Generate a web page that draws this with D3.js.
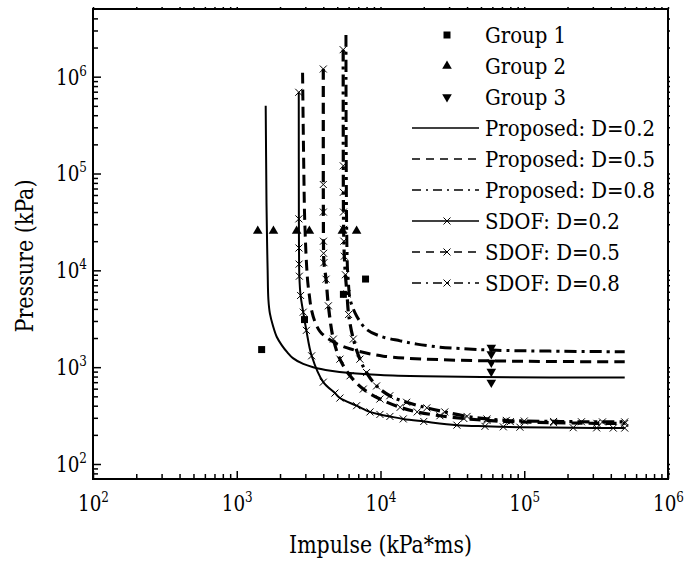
<!DOCTYPE html>
<html>
<head>
<meta charset="utf-8">
<script src="https://cdn.jsdelivr.net/npm/d3@7"></script>
<style>
  body { margin: 0; background: #fff; }
  svg { display: block; }
  text { font-family: 'DejaVu Serif', serif; font-stretch: condensed; }
</style>
</head>
<body>
<main></main>
<script>
const w = 688;
const h = 568;
const padLeft = 93, padRight = 668, padTop = 9, padBottom = 479;

// tick labels (decades)
const xTicks = [1e2, 1e3, 1e4, 1e5, 1e6];
const yTicks = [1e2, 1e3, 1e4, 1e5, 1e6];

// test groups [impulse, pressure]
const group1 = [[1490, 1520], [2960, 3100], [5520, 5650], [7870, 8130]];
const group2 = [[1400, 25500], [1800, 25500], [2610, 25500], [3200, 25500], [5430, 25500], [6820, 25500]];
const group3 = [[59000, 1600], [59000, 1370], [59000, 1120], [59000, 900], [59000, 695]];

// proposed P-I curves
const proposed02 = [[1590, 5e5], [1600, 1.5e5], [1610, 5e4], [1625, 2e4], [1640, 1e4], [1660, 5000], [1700, 3600],
  [1790, 2650], [1900, 2050], [2060, 1680], [2250, 1420], [2460, 1240], [2900, 1080], [3400, 1000], [4500, 920],
  [6140, 870], [1e4, 830], [2e4, 805], [5e4, 790], [1.5e5, 783], [5e5, 780]];
const proposed05 = [[2870, 1.1e6], [2900, 3e5], [2930, 1e5], [2960, 4e4], [2990, 2.5e4], [3030, 1.5e4], [3070, 1.05e4],
  [3120, 7500], [3200, 5500], [3300, 4000], [3500, 2950], [3800, 2330], [4300, 1980], [4900, 1760], [5800, 1590],
  [6820, 1480], [8500, 1370], [10450, 1300], [15000, 1240], [25900, 1195], [6e4, 1160], [1.5e5, 1145], [5e5, 1137]];
const proposed08 = [[5750, 2.7e6], [5755, 1e6], [5765, 3e5], [5780, 1e5], [5800, 4e4], [5820, 2.5e4], [5850, 1.5e4],
  [5900, 1e4], [5980, 7500], [6140, 5050], [6820, 3380], [8000, 2460], [9870, 2100], [13700, 1870], [17900, 1730],
  [25900, 1610], [35800, 1560], [6e4, 1500], [1.5e5, 1465], [5e5, 1442]];

// SDOF results
const sdof02 = [[2700, 6.9e5], [2705, 3.4e4], [2710, 1.7e4], [2715, 1.16e4], [2725, 8700], [2780, 5500], [2900, 3700],
  [3050, 2400], [3320, 1310], [4000, 700], [4820, 540], [5220, 480], [6820, 400], [8450, 345], [9910, 325],
  [11630, 310], [14400, 292], [20000, 275], [34000, 252], [53300, 245], [71500, 242], [93300, 240],
  [2.19e5, 237], [3.19e5, 236], [4.16e5, 235], [5e5, 235]];
const sdof05 = [[4000, 1.2e6], [4000, 7.7e4], [4005, 4e4], [4010, 2e4], [4020, 1.5e4], [4040, 1.2e4], [4180, 8100],
  [4340, 4300], [4700, 1950], [5220, 1210], [6140, 815], [7590, 594], [9910, 469], [13700, 385], [18000, 345],
  [25900, 315], [38000, 295], [55000, 282], [80000, 274], [1.6e5, 267], [3.2e5, 263], [5e5, 262]];
const sdof08 = [[5500, 1.9e6], [5510, 1.2e5], [5515, 6.4e4], [5525, 4e4], [5540, 2.65e4], [5560, 2e4], [5600, 1.4e4],
  [5700, 9000], [5850, 5700], [6000, 3500], [6470, 1950], [7190, 1210], [8000, 880], [9390, 640], [11600, 507],
  [15200, 434], [21000, 380], [28000, 345], [40000, 310], [55000, 292], [75000, 282], [1e5, 278], [1.6e5, 275],
  [2.5e5, 273], [3.5e5, 272], [5e5, 272]];

const legendLabels = ["Group 1", "Group 2", "Group 3", "Proposed: D=0.2", "Proposed: D=0.5", "Proposed: D=0.8",
  "SDOF: D=0.2", "SDOF: D=0.5", "SDOF: D=0.8"];

const x = d3.scaleLog().domain([100, 1e6]).range([padLeft, padRight]);
const y = d3.scaleLog().domain([70, 5e6]).range([padBottom, padTop]);

function minorTicks(scale) {
  const [a, b] = scale.domain();
  const out = [];
  for (let e = Math.floor(Math.log10(a)); e <= Math.ceil(Math.log10(b)); e++) {
    for (let m = 2; m <= 9; m++) {
      const v = m * Math.pow(10, e);
      if (v > a && v < b) out.push(v);
    }
  }
  return out;
}

// squeeze text horizontally so it takes `width` px (narrow serif look)
function squeezeFactor(node, width) {
  return width / node.getComputedTextLength();
}

const svg = d3.select("main").append("svg")
  .attr("width", w)
  .attr("height", h);

svg.append("rect").attr("width", w).attr("height", h).attr("fill", "#fff");

function powerLabels(g) {
  g.attr("font-family", null);
  g.selectAll(".tick text").each(function (d) {
    const t = d3.select(this);
    t.text("");
    t.attr("font-size", 23).attr("fill", "#000");
    t.append("tspan").text("10");
    t.append("tspan").attr("dy", -9).attr("font-size", 15).text(Math.round(Math.log10(d)));
    const k = squeezeFactor(this, 31);
    t.attr("transform", "scale(" + k + ",1)").attr("x", +t.attr("x") / k);
  });
}

// axes: inward ticks
const axisStyle = g => {
  g.select(".domain").remove();
  g.selectAll(".tick line").attr("stroke", "#000").attr("stroke-width", 1.5);
};

svg.append("g")
  .attr("transform", "translate(0," + padBottom + ")")
  .call(d3.axisBottom(x).tickValues(minorTicks(x)).tickSizeInner(-5).tickSizeOuter(0).tickFormat(""))
  .call(axisStyle);
svg.append("g")
  .attr("transform", "translate(0," + padBottom + ")")
  .call(d3.axisBottom(x).tickValues(xTicks).tickSizeInner(-8).tickSizeOuter(0).tickPadding(16))
  .call(axisStyle)
  .call(powerLabels);

svg.append("g")
  .attr("transform", "translate(" + padLeft + ",0)")
  .call(d3.axisLeft(y).tickValues(minorTicks(y)).tickSizeInner(-5).tickSizeOuter(0).tickFormat(""))
  .call(axisStyle);
svg.append("g")
  .attr("transform", "translate(" + padLeft + ",0)")
  .call(d3.axisLeft(y).tickValues(yTicks).tickSizeInner(-8).tickSizeOuter(0).tickPadding(6))
  .call(axisStyle)
  .call(powerLabels);

// tiny ticks on top and right
svg.append("g")
  .attr("transform", "translate(0," + padTop + ")")
  .call(d3.axisTop(x).tickValues(xTicks.concat(minorTicks(x))).tickSizeInner(2).tickSizeOuter(0).tickFormat(""))
  .call(axisStyle);
svg.append("g")
  .attr("transform", "translate(" + padRight + ",0)")
  .call(d3.axisRight(y).tickValues(yTicks.concat(minorTicks(y))).tickSizeInner(2).tickSizeOuter(0).tickFormat(""))
  .call(axisStyle);

svg.append("rect")
  .attr("x", padLeft).attr("y", padTop)
  .attr("width", padRight - padLeft).attr("height", padBottom - padTop)
  .attr("fill", "none").attr("stroke", "#000").attr("stroke-width", 2);

// axis titles
const xTitle = svg.append("text")
  .attr("text-anchor", "middle")
  .attr("font-size", 25)
  .text("Impulse (kPa*ms)");
xTitle.attr("transform", "translate(" + (padLeft + padRight) / 2 + ",553) scale(" + squeezeFactor(xTitle.node(), 183) + ",1)");

const yTitle = svg.append("text")
  .attr("text-anchor", "middle")
  .attr("font-size", 25)
  .text("Pressure (kPa)");
yTitle.attr("transform", "translate(33,256) rotate(-90) scale(" + squeezeFactor(yTitle.node(), 153) + ",1)");

// curves
svg.append("clipPath").attr("id", "clip")
  .append("rect").attr("x", padLeft).attr("y", padTop).attr("width", padRight - padLeft).attr("height", padBottom - padTop);
const plot = svg.append("g").attr("clip-path", "url(#clip)");

const line = d3.line()
  .x(d => x(d[0]))
  .y(d => y(d[1]))
  .curve(d3.curveCatmullRom.alpha(0.5));

const dashed = "11,6";
const dashDot = "12,5,3,5";

const series = [
  {data: proposed02, width: 2, dash: null, marks: false},
  {data: proposed05, width: 3, dash: dashed, marks: false},
  {data: proposed08, width: 3, dash: dashDot, marks: false},
  {data: sdof02, width: 2, dash: null, marks: true},
  {data: sdof05, width: 3.2, dash: dashed, marks: true},
  {data: sdof08, width: 3.2, dash: dashDot, marks: true}
];

const cross = "M-3.5,-3.5L3.5,3.5M-3.5,3.5L3.5,-3.5";

series.forEach(s => {
  plot.append("path")
    .datum(s.data)
    .attr("d", line)
    .attr("fill", "none")
    .attr("stroke", "#000")
    .attr("stroke-width", s.width)
    .attr("stroke-dasharray", s.dash);
  if (s.marks) {
    plot.selectAll(null)
      .data(s.data)
      .enter()
      .append("path")
      .attr("d", cross)
      .attr("transform", d => "translate(" + x(d[0]) + "," + y(d[1]) + ")")
      .attr("stroke", "#000")
      .attr("stroke-width", 1);
  }
});

// test points
const square = d3.symbol().type(d3.symbolSquare).size(49);
const tri = d3.symbol().type(d3.symbolTriangle).size(40);

plot.selectAll(null).data(group1).enter().append("path")
  .attr("d", square)
  .attr("transform", d => "translate(" + x(d[0]) + "," + y(d[1]) + ")");
plot.selectAll(null).data(group2).enter().append("path")
  .attr("d", tri)
  .attr("transform", d => "translate(" + x(d[0]) + "," + y(d[1]) + ")");
plot.selectAll(null).data(group3).enter().append("path")
  .attr("d", tri)
  .attr("transform", d => "translate(" + x(d[0]) + "," + y(d[1]) + ") rotate(180)");

// legend
const legend = svg.append("g");
const rowY = i => 35 + 31 * i;
const styles = [
  {sym: square}, {sym: tri}, {sym: tri, rot: 180},
  {width: 1.5}, {width: 1.5, dash: "8,6"}, {width: 1.5, dash: "9,5,2,5"},
  {width: 1.5, mark: true}, {width: 1.5, dash: "8,6", mark: true}, {width: 1.5, dash: "9,5,2,5", mark: true}
];

let legendK = null;
legendLabels.forEach((label, i) => {
  const st = styles[i];
  const cy = rowY(i);
  if (st.sym) {
    legend.append("path")
      .attr("d", st.sym)
      .attr("transform", "translate(447," + cy + ")" + (st.rot ? " rotate(180)" : ""));
  } else {
    legend.append("line")
      .attr("x1", 412).attr("x2", 479).attr("y1", cy).attr("y2", cy)
      .attr("stroke", "#000")
      .attr("stroke-width", st.width)
      .attr("stroke-dasharray", st.dash || null);
    if (st.mark) {
      legend.append("path")
        .attr("d", cross)
        .attr("transform", "translate(447," + cy + ")")
        .attr("stroke", "#000")
        .attr("stroke-width", 1);
    }
  }
  const t = legend.append("text")
    .attr("font-size", 23)
    .text(label);
  if (legendK === null && label.startsWith("Proposed")) legendK = squeezeFactor(t.node(), 170);
  t.attr("data-row", i);
});
legend.selectAll("text").each(function () {
  const i = +d3.select(this).attr("data-row");
  d3.select(this).attr("transform", "translate(485," + (rowY(i) + 8) + ") scale(" + legendK + ",1)");
});
</script>
</body>
</html>
